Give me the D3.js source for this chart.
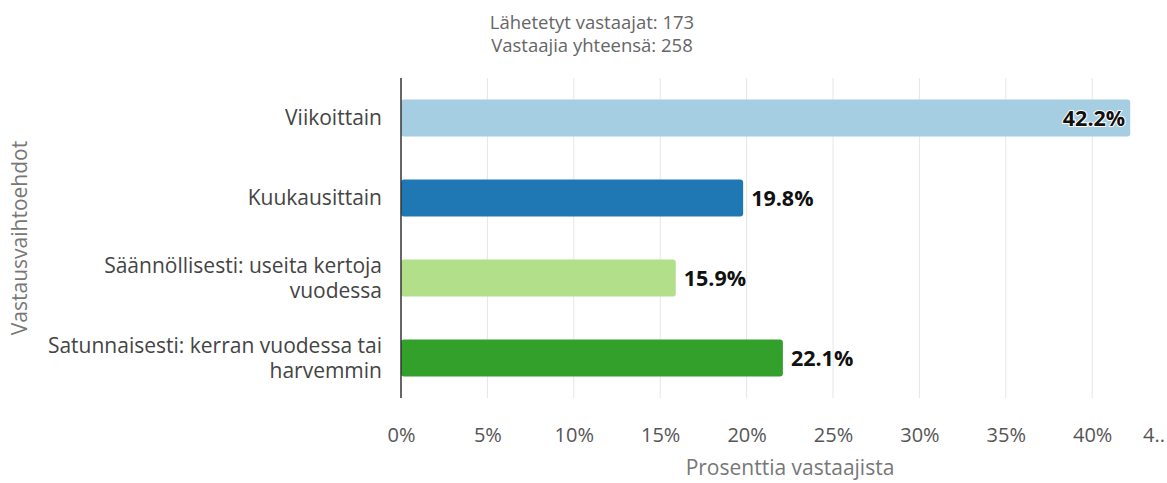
<!DOCTYPE html>
<html>
<head>
<meta charset="utf-8">
<script src="https://cdn.jsdelivr.net/npm/d3@7"></script>
<style>
  body { margin: 0; background: #fff; }
  svg { display: block; font-family: "Open Sans", "Noto Sans", sans-serif; }
</style>
</head>
<body>
<div id="chart"></div>
<script>
// Datos del gráfico
const categories = [
  ["Viikoittain"],
  ["Kuukausittain"],
  ["Säännöllisesti: useita kertoja", "vuodessa"],
  ["Satunnaisesti: kerran vuodessa tai", "harvemmin"]
];
const values = [42.2, 19.8, 15.9, 22.1];
const colors = ["#a6cee3", "#1f78b4", "#b2df8a", "#33a02c"];
const tickValues = [0, 5, 10, 15, 20, 25, 30, 35, 40, 45];
const headerLines = ["Lähetetyt vastaajat: 173", "Vastaajia yhteensä: 258"];

const width = 1167, height = 483;
const margin = { top: 78, right: 0, bottom: 85, left: 401 };

const svg = d3.select("#chart").append("svg")
  .attr("width", width)
  .attr("height", height);

const x = d3.scaleLinear()
  .domain([0, 45])
  .range([margin.left, margin.left + 45 * 17.28]);

const y = d3.scaleBand()
  .domain(d3.range(values.length))
  .range([margin.top, height - margin.bottom])
  .paddingInner(0.54)
  .paddingOuter(0.27);

// Cabecera
svg.append("g").selectAll("text")
  .data(headerLines)
  .enter()
  .append("text")
  .attr("x", 592)
  .attr("y", (d, i) => 29 + i * 23)
  .attr("text-anchor", "middle")
  .attr("fill", "#666")
  .style("font-size", "18.5px")
  .text(d => d);

// Líneas de cuadrícula
svg.append("g").selectAll("line.grid")
  .data(tickValues.filter(d => d > 0))
  .enter()
  .append("line")
  .attr("class", "grid")
  .attr("x1", d => x(d))
  .attr("x2", d => x(d))
  .attr("y1", margin.top)
  .attr("y2", height - margin.bottom)
  .attr("stroke", "#e6e6e6")
  .attr("stroke-width", 1);

// Barras
svg.append("g").selectAll("rect")
  .data(values)
  .enter()
  .append("rect")
  .attr("x", x(0))
  .attr("y", (d, i) => y(i))
  .attr("width", d => x(d) - x(0))
  .attr("height", y.bandwidth())
  .attr("rx", 3)
  .attr("fill", (d, i) => colors[i]);

// Etiquetas de valor
svg.append("g").selectAll("text")
  .data(values)
  .enter()
  .append("text")
  .attr("x", d => d > 40 ? x(d) - 5 : x(d) + 8)
  .attr("y", (d, i) => y(i) + y.bandwidth() / 2)
  .attr("dy", "0.35em")
  .attr("text-anchor", d => d > 40 ? "end" : "start")
  .attr("fill", "#111")
  .attr("stroke", "#fff")
  .attr("stroke-width", 2)
  .attr("paint-order", "stroke")
  .style("font-size", "21.5px")
  .style("font-weight", "bold")
  .text(d => d.toFixed(1) + "%");

// Eje Y
svg.append("line")
  .attr("x1", x(0)).attr("x2", x(0))
  .attr("y1", margin.top).attr("y2", height - margin.bottom)
  .attr("stroke", "#333")
  .attr("stroke-width", 1.5);

const catLabels = svg.append("g").selectAll("text")
  .data(categories)
  .enter()
  .append("text")
  .attr("text-anchor", "end")
  .attr("fill", "#444")
  .style("font-size", "21px")
  .attr("transform", (d, i) => `translate(382,${y(i) + y.bandwidth() / 2})`);

catLabels.selectAll("tspan")
  .data(d => d.map((line, j) => ({ line, j, n: d.length })))
  .enter()
  .append("tspan")
  .attr("x", 0)
  .attr("y", d => (d.j - (d.n - 1) / 2) * 25)
  .attr("dy", "0.35em")
  .text(d => d.line);

// Eje X
const xAxis = d3.axisBottom(x)
  .tickValues(tickValues)
  .tickSize(0)
  .tickPadding(0)
  .tickFormat(d => d === 45 ? "4.." : d + "%");

const gx = svg.append("g")
  .attr("transform", `translate(0,${height - margin.bottom + 30})`)
  .call(xAxis);
gx.select(".domain").remove();
gx.selectAll("text")
  .attr("fill", "#555")
  .style("font-size", "20px")
  .style("font-family", "'Open Sans', sans-serif");
gx.selectAll(".tick")
  .filter(d => d === 45)
  .select("text")
  .attr("text-anchor", "start")
  .attr("x", -36);

// Títulos de los ejes
svg.append("text")
  .attr("x", 790)
  .attr("y", 475)
  .attr("text-anchor", "middle")
  .attr("fill", "#777")
  .style("font-size", "21px")
  .text("Prosenttia vastaajista");

svg.append("text")
  .attr("transform", `translate(27,${238}) rotate(-90)`)
  .attr("text-anchor", "middle")
  .attr("fill", "#777")
  .style("font-size", "21px")
  .text("Vastausvaihtoehdot");
</script>
</body>
</html>
